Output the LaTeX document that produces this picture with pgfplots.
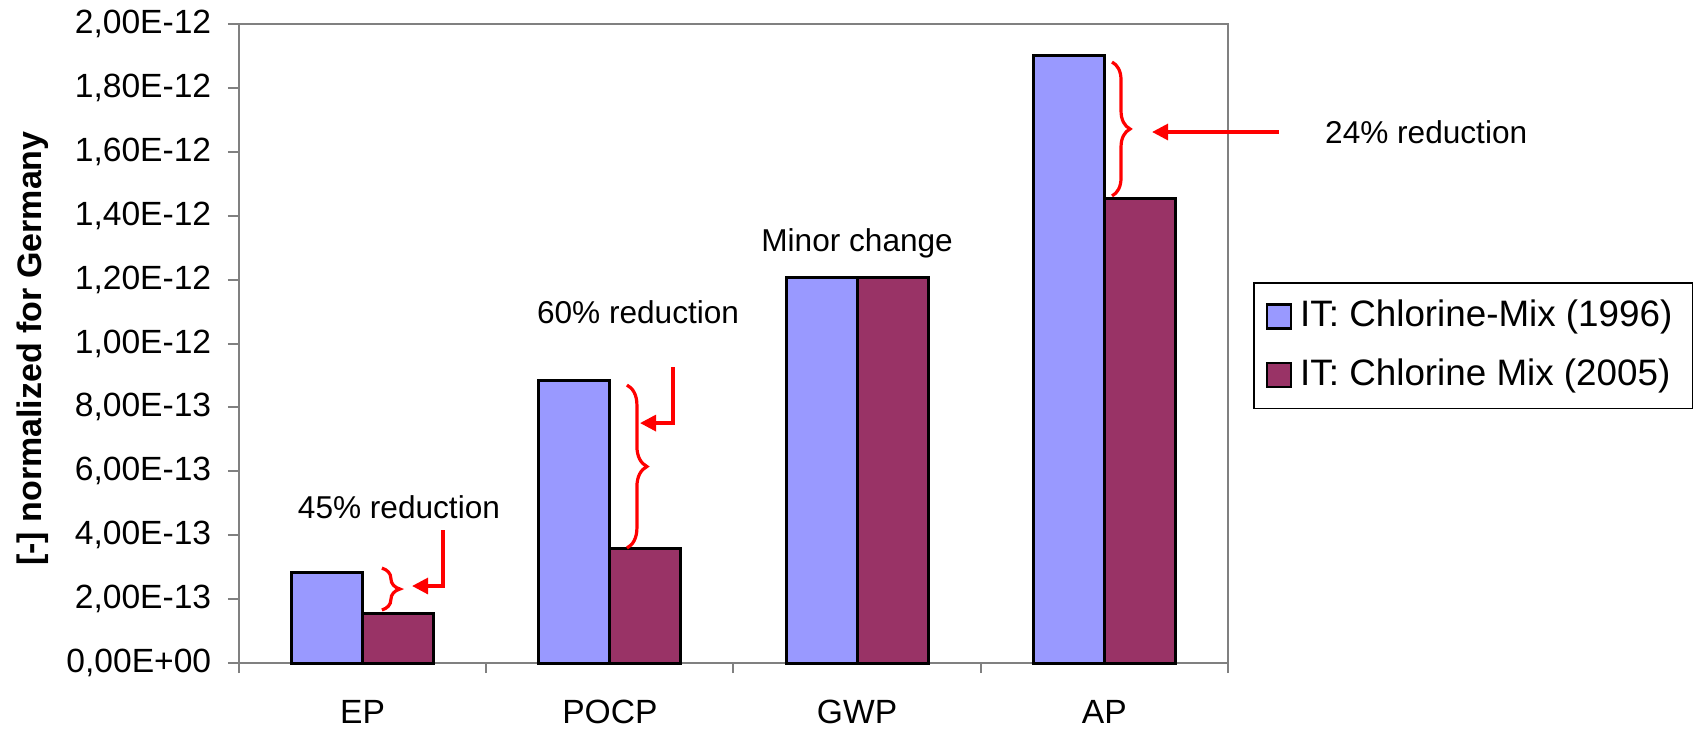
\documentclass[border=0pt]{standalone}
\usepackage{fontspec}
\setmainfont{Liberation Sans}
\usepackage{pgfplots}
\pgfplotsset{compat=1.18}
\usetikzlibrary{arrows.meta,decorations.pathreplacing}
\definecolor{cold}{HTML}{9999FF}
\definecolor{cnew}{HTML}{993366}
\definecolor{axgray}{HTML}{808080}
\pgfplotsset{sqlegend/.style={legend image code/.code={%
    \draw[##1, line width=0.6pt] (0pt,-3pt) rectangle (6pt,3pt);}}}
\begin{document}
\begin{tikzpicture}
% page frame (1 px = 0.25pt)
\path (-59.75pt,-15.75pt) rectangle (365.75pt,165.75pt);
\begin{axis}[
    at={(0pt,0pt)}, anchor=south west,
    width=247.25pt, height=159.75pt, scale only axis,
    clip=false,
    ybar=0pt, bar width=0.287,
    xmin=-0.5, xmax=3.5, ymin=0, ymax=2e-12,
    xtick={0,1,2,3}, xticklabels={EP,POCP,GWP,AP},
    minor xtick={-0.5,0.5,1.5,2.5,3.5},
    ytick={0,2e-13,4e-13,6e-13,8e-13,1e-12,1.2e-12,1.4e-12,1.6e-12,1.8e-12,2e-12},
    yticklabels={{0,00E+00},{2,00E-13},{4,00E-13},{6,00E-13},{8,00E-13},{1,00E-12},
                 {1,20E-12},{1,40E-12},{1,60E-12},{1,80E-12},{2,00E-12}},
    scaled y ticks=false,
    xtick pos=bottom, ytick pos=left,
    axis line style={axgray, line width=0.5pt},
    tick align=outside,
    major tick length=2.75pt, minor tick length=2.5pt,
    major x tick style={draw=none},
    minor x tick style={axgray, line width=0.5pt},
    ytick style={axgray, line width=0.5pt},
    tick label style={font=\fontsize{8.4}{9.5}\selectfont},
    xticklabel style={anchor=base, yshift=-12.25pt},
    yticklabel style={anchor=east, inner sep=0pt, xshift=-4pt},
    ylabel={{}[-] normalized for Germany},
    ylabel style={font=\fontsize{8.5}{10}\selectfont\bfseries,
                  at={(axis description cs:-0.1992,0.492)}, anchor=base},
    legend style={at={(axis description cs:1.0253,0.5962)}, anchor=north west,
                  draw=black, line width=0.4pt,
                  font=\fontsize{9.2}{11}\selectfont,
                  row sep=2.5pt, inner xsep=3pt, inner ysep=2.3pt},
    legend cell align=left,
]
\addplot[fill=cold, draw=black, line width=0.75pt, sqlegend]
coordinates {(0,2.82e-13) (1,8.83e-13) (2,1.208e-12) (3,1.90e-12)};
\addlegendentry{IT: Chlorine-Mix (1996)}
\addplot[fill=cnew, draw=black, line width=0.75pt, sqlegend]
coordinates {(0,1.56e-13) (1,3.57e-13) (2,1.208e-12) (3,1.455e-12)};
\addlegendentry{IT: Chlorine Mix (2005)}

% annotations
\draw[red, line width=0.8pt, decorate, decoration={brace, amplitude=4.5pt}]
    (axis cs:0.078,2.97e-13) -- (axis cs:0.078,1.66e-13);
\draw[red, line width=0.8pt, -{Triangle[length=4pt,width=4pt]}]
    (axis cs:0.325,4.16e-13) |- (axis cs:0.20,2.41e-13);
\node[font=\fontsize{7.9}{9.5}\selectfont] at (axis cs:0.147,4.88e-13) {45\% reduction};

\draw[red, line width=0.8pt, decorate, decoration={brace, amplitude=5pt}]
    (axis cs:1.069,8.70e-13) -- (axis cs:1.069,3.60e-13);
\draw[red, line width=0.8pt, -{Triangle[length=4pt,width=4pt]}]
    (axis cs:1.255,9.26e-13) |- (axis cs:1.122,7.51e-13);
\node[font=\fontsize{7.9}{9.5}\selectfont] at (axis cs:1.114,1.099e-12) {60\% reduction};

\node[font=\fontsize{7.9}{9.5}\selectfont] at (axis cs:2.0,1.315e-12) {Minor change};

\draw[red, line width=0.8pt, decorate, decoration={brace, amplitude=4.5pt}]
    (axis cs:3.031,1.881e-12) -- (axis cs:3.031,1.462e-12);
\draw[red, line width=0.8pt, -{Triangle[length=4pt,width=4pt]}]
    (axis cs:3.706,1.662e-12) -- (axis cs:3.193,1.662e-12);
\node[font=\fontsize{7.9}{9.5}\selectfont, anchor=west] at (axis cs:3.836,1.662e-12) {24\% reduction};
\end{axis}
\end{tikzpicture}
\end{document}
